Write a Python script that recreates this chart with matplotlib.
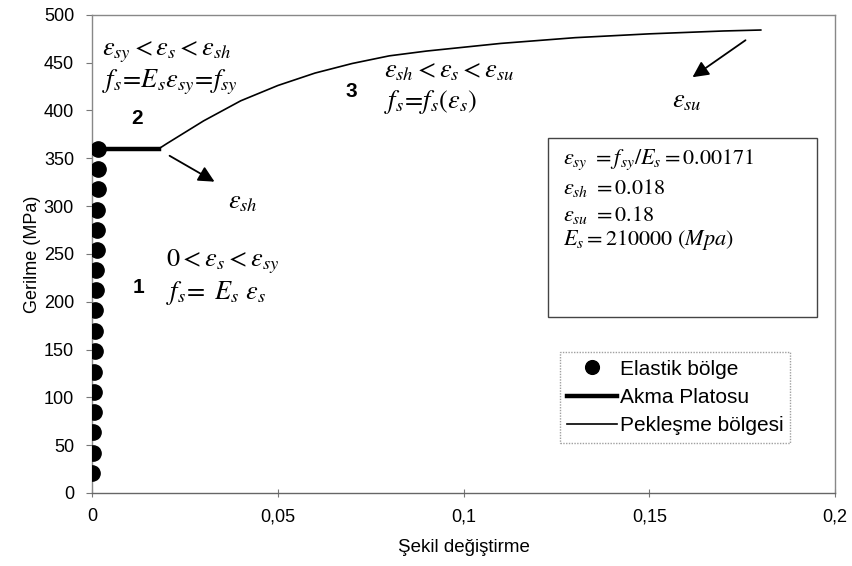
import numpy as np
import matplotlib
matplotlib.use("Agg")
import matplotlib.pyplot as plt
from matplotlib.ticker import FuncFormatter
from matplotlib.patches import Rectangle

plt.rcParams['font.family'] = ['Liberation Sans', 'DejaVu Sans']
plt.rcParams['mathtext.fontset'] = 'stix'

# elastic region (dots)
elastic_strain = [0.0001, 0.0002, 0.0003, 0.0004, 0.0005, 0.0006, 0.0007, 0.0008, 0.0009,
                  0.0010, 0.0011, 0.0012, 0.0013, 0.0014, 0.0015, 0.0016, 0.00171]
elastic_stress = [21, 42, 64, 85, 106, 127, 148, 169, 191, 212, 233, 254, 275, 296, 318, 339, 360]

# yield plateau
plateau_strain = [0.00171, 0.018]
plateau_stress = [360, 360]

# strain hardening
hard_strain = [0.018, 0.02, 0.025, 0.03, 0.04, 0.05, 0.06, 0.07, 0.08, 0.09,
               0.10, 0.11, 0.12, 0.13, 0.14, 0.15, 0.16, 0.17, 0.18]
hard_stress = [360, 365, 377, 389, 410, 426, 439, 449, 457, 462,
               466, 470, 473, 476, 478, 480, 481.5, 483, 484]

xticks = [0, 0.05, 0.1, 0.15, 0.2]
yticks = [0, 50, 100, 150, 200, 250, 300, 350, 400, 450, 500]

fig = plt.figure(figsize=(8.53, 5.66), dpi=100)
ax = fig.add_axes([0.108, 0.129, 0.871, 0.845])

ax.plot(elastic_strain, elastic_stress, 'o', color='black', ms=11, label='Elastik bölge', zorder=3)
ax.plot(plateau_strain, plateau_stress, '-', color='black', lw=3.2, label='Akma Platosu')
ax.plot(hard_strain, hard_stress, '-', color='black', lw=1.2, label='Pekleşme bölgesi')

ax.set_xlim(0, 0.2)
ax.set_ylim(0, 500)
ax.set_xticks(xticks)
ax.set_yticks(yticks)
ax.xaxis.set_major_formatter(FuncFormatter(lambda v, p: ('%g' % v).replace('.', ',')))
ax.tick_params(axis='x', direction='inout', length=6, color='#777777', labelsize=13, pad=8)
ax.tick_params(axis='y', direction='out', length=4, color='#777777', labelsize=13, pad=9)

for side in ['left', 'top', 'right']:
    ax.spines[side].set_linestyle((0, (1, 1)))
    ax.spines[side].set_color('#888888')
    ax.spines[side].set_linewidth(1)
ax.spines['bottom'].set_color('#666666')
ax.spines['bottom'].set_linewidth(1)

ax.set_xlabel('Şekil değiştirme', fontsize=13.5, labelpad=10)
ax.set_ylabel('Gerilme (MPa)', fontsize=13, labelpad=2)

# region annotations
ax.text(0.0027, 461, r'$\varepsilon_{sy}<\varepsilon_s<\varepsilon_{sh}$', fontsize=19, va='center')
ax.text(0.0027, 429, r'$f_s\!=\!E_s\varepsilon_{sy}\!=\!f_{sy}$', fontsize=19, va='center')
ax.text(0.0121, 392, '2', fontsize=15, fontweight='bold', ha='center', va='center')

ax.text(0.0124, 215, '1', fontsize=15, fontweight='bold', ha='center', va='center')
ax.text(0.020, 242, r'$\mathit{0}<\varepsilon_s<\varepsilon_{sy}$', fontsize=19, va='center')
ax.text(0.020, 209, r'$f_s\!=\ E_s\ \varepsilon_s$', fontsize=19, va='center')

ax.text(0.0697, 420, '3', fontsize=15, fontweight='bold', ha='center', va='center')
ax.text(0.0785, 441, r'$\varepsilon_{sh}<\varepsilon_s<\varepsilon_{su}$', fontsize=19, va='center')
ax.text(0.0785, 409, r'$f_s\!=\!f_s(\varepsilon_s)$', fontsize=19, va='center')

ax.annotate('', xy=(0.0336, 324), xytext=(0.0202, 354),
            arrowprops=dict(arrowstyle='-|>', color='black', lw=1.3, mutation_scale=24))
ax.text(0.0406, 304, r'$\varepsilon_{sh}$', fontsize=19, ha='center', va='center')

ax.annotate('', xy=(0.161, 433), xytext=(0.1765, 475),
            arrowprops=dict(arrowstyle='-|>', color='black', lw=1.3, mutation_scale=24))
ax.text(0.160, 410, r'$\varepsilon_{su}$', fontsize=19, ha='center', va='center')

# parameter box
ax.add_patch(Rectangle((0.614, 0.368), 0.362, 0.375, transform=ax.transAxes,
                       fill=False, edgecolor='#444444', lw=1))
ax.text(0.1268, 348, r'$\varepsilon_{sy}\ =f_{sy}/E_s\mathit{=0.00171}$', fontsize=16, va='center')
ax.text(0.1268, 319, r'$\varepsilon_{sh}\ \mathit{=0.018}$', fontsize=16, va='center')
ax.text(0.1268, 291, r'$\varepsilon_{su}\ \mathit{=0.18}$', fontsize=16, va='center')
ax.text(0.1268, 264, r'$E_s\mathit{=210000\ (Mpa)}$', fontsize=16, va='center')

leg = ax.legend(loc='lower left', bbox_to_anchor=(0.63, 0.105), fontsize=15,
                frameon=True, fancybox=False, handlelength=2.4, handletextpad=0.1,
                borderpad=0.35, labelspacing=0.45, borderaxespad=0, markerscale=0.9)
leg.get_frame().set_edgecolor('#888888')
leg.get_frame().set_linestyle((0, (1, 1)))
leg.get_frame().set_linewidth(1)

fig.savefig('out.png', dpi=100)
